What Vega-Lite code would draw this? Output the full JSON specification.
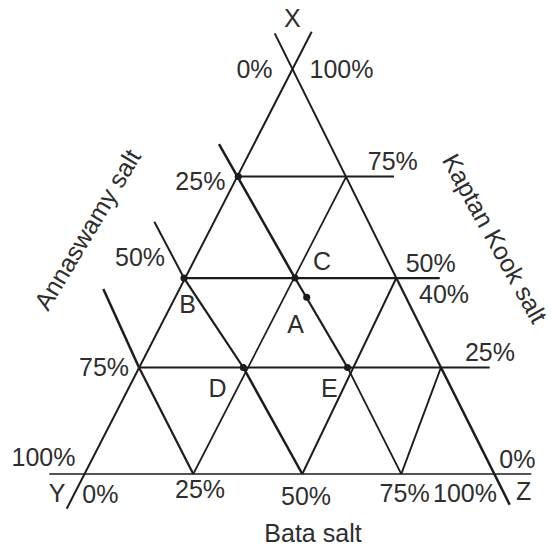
{
  "$schema": "https://vega.github.io/schema/vega-lite/v6.json",
  "width": 552,
  "height": 550,
  "autosize": {"type": "fit", "contains": "padding"},
  "padding": 0,
  "background": "white",
  "config": {"view": {"stroke": null}},
  "datasets": {
    "segments": [
      {"name": "left edge", "x": -4.49, "y": -8.59, "x2": 55.56, "y2": 109.48, "weight": "medium"},
      {"name": "right edge", "x": 46.50, "y": 109.08, "x2": 76.30, "y2": 48.51, "weight": "medium"},
      {"name": "right edge", "x": 76.30, "y": 48.51, "x2": 87.25, "y2": 26.36, "weight": "bold"},
      {"name": "right edge", "x": 87.25, "y": 26.36, "x2": 104.09, "y2": -7.60, "weight": "heavy"},
      {"name": "L1", "x": 32.84, "y": 81.68, "x2": 51.47, "y2": 48.51, "weight": "heavy"},
      {"name": "L1", "x": 51.47, "y": 48.51, "x2": 64.34, "y2": 26.36, "weight": "bold"},
      {"name": "L1", "x": 64.34, "y": 26.36, "x2": 77.52, "y2": 0, "weight": "thin"},
      {"name": "L2", "x": 16.99, "y": 62.45, "x2": 24.26, "y2": 48.51, "weight": "medium"},
      {"name": "L2", "x": 24.26, "y": 48.51, "x2": 38.80, "y2": 26.36, "weight": "bold"},
      {"name": "L2", "x": 38.80, "y": 26.36, "x2": 53.26, "y2": 0, "weight": "heavy"},
      {"name": "L3", "x": 4.49, "y": 45.79, "x2": 13.24, "y2": 26.36, "weight": "heavy"},
      {"name": "L3", "x": 13.24, "y": 26.36, "x2": 26.54, "y2": 0, "weight": "bold"},
      {"name": "M1", "x": 26.54, "y": 0, "x2": 64.04, "y2": 73.64, "weight": "thin"},
      {"name": "M2", "x": 53.26, "y": 0, "x2": 76.30, "y2": 48.51, "weight": "medium"},
      {"name": "M3", "x": 77.52, "y": 0, "x2": 87.25, "y2": 26.36, "weight": "medium"},
      {"name": "row25", "x": 37.57, "y": 73.64, "x2": 75.74, "y2": 73.64, "weight": "bold"},
      {"name": "row50", "x": 24.26, "y": 48.51, "x2": 86.94, "y2": 48.51, "weight": "bold"},
      {"name": "row75", "x": 13.24, "y": 26.36, "x2": 99.19, "y2": 26.36, "weight": "bold"},
      {"name": "base", "x": -8.75, "y": 0, "x2": 109.39, "y2": 0, "weight": "thin"}
    ],
    "dots": [
      {"label": "25% point", "x": 37.57, "y": 73.64},
      {"label": "B", "x": 24.26, "y": 48.51},
      {"label": "C", "x": 51.47, "y": 48.51},
      {"label": "A", "x": 54.34, "y": 43.74},
      {"label": "D", "x": 38.80, "y": 26.36},
      {"label": "E", "x": 64.34, "y": 26.36}
    ],
    "labels": [
      {"text": "X", "x": 50.81, "y": 112.55},
      {"text": "0%", "x": 41.54, "y": 100.0},
      {"text": "100%", "x": 62.87, "y": 99.88},
      {"text": "25%", "x": 28.28, "y": 72.28},
      {"text": "75%", "x": 75.44, "y": 77.35},
      {"text": "50%", "x": 13.48, "y": 53.47},
      {"text": "C", "x": 58.09, "y": 52.48},
      {"text": "50%", "x": 84.73, "y": 51.86},
      {"text": "40%", "x": 87.99, "y": 44.43},
      {"text": "B", "x": 25.12, "y": 41.83},
      {"text": "A", "x": 51.64, "y": 36.81},
      {"text": "75%", "x": 4.66, "y": 26.24},
      {"text": "D", "x": 32.48, "y": 21.04},
      {"text": "E", "x": 59.88, "y": 21.04},
      {"text": "25%", "x": 99.26, "y": 29.95},
      {"text": "100%", "x": -10.17, "y": 3.84},
      {"text": "Y", "x": -6.86, "y": -4.83},
      {"text": "0%", "x": 3.77, "y": -5.20},
      {"text": "25%", "x": 28.19, "y": -3.96},
      {"text": "50%", "x": 54.17, "y": -5.57},
      {"text": "75%", "x": 78.33, "y": -4.83},
      {"text": "100%", "x": 93.14, "y": -4.83},
      {"text": "0%", "x": 105.96, "y": 3.39},
      {"text": "Z", "x": 107.50, "y": -4.46},
      {"text": "Bata salt", "x": 55.88, "y": -14.73}
    ],
    "sideTitles": [
      {"text": "Annaswamy salt", "side": "left", "x": 0.74, "y": 60.40},
      {"text": "Kaptan Kook salt", "side": "right", "x": 100.3, "y": 58.2}
    ]
  },
  "encoding": {
    "x": {"field": "x", "type": "quantitative", "axis": null,
          "scale": {"domain": [-20.833, 114.461], "nice": false, "zero": false, "padding": 0}},
    "y": {"field": "y", "type": "quantitative", "axis": null,
          "scale": {"domain": [-18.812, 117.327], "nice": false, "zero": false, "padding": 0}}
  },
  "layer": [
    {
      "data": {"name": "segments"},
      "mark": {"type": "rule", "color": "#1c1c1c", "strokeCap": "butt"},
      "encoding": {
        "x2": {"field": "x2"},
        "y2": {"field": "y2"},
        "strokeWidth": {"field": "weight", "type": "ordinal",
          "scale": {"domain": ["thin", "medium", "bold", "heavy"], "range": [1.7, 2.5, 3.0, 4.0]},
          "legend": null}
      }
    },
    {
      "data": {"name": "dots"},
      "mark": {"type": "point", "shape": "circle", "filled": true, "color": "#1c1c1c", "size": 50, "opacity": 1}
    },
    {
      "data": {"name": "labels"},
      "mark": {"type": "text", "font": "Liberation Sans", "fontSize": 25, "color": "#2e2e2e",
               "align": "center", "baseline": "middle"},
      "encoding": {"text": {"field": "text"}}
    },
    {
      "data": {"name": "sideTitles"},
      "transform": [{"filter": "datum.side === 'left'"}],
      "mark": {"type": "text", "font": "Liberation Sans", "fontSize": 25, "color": "#2e2e2e",
               "align": "center", "baseline": "middle", "angle": -59},
      "encoding": {"text": {"field": "text"}}
    },
    {
      "data": {"name": "sideTitles"},
      "transform": [{"filter": "datum.side === 'right'"}],
      "mark": {"type": "text", "font": "Liberation Sans", "fontSize": 25, "color": "#2e2e2e",
               "align": "center", "baseline": "middle", "angle": 61},
      "encoding": {"text": {"field": "text"}}
    }
  ]
}
